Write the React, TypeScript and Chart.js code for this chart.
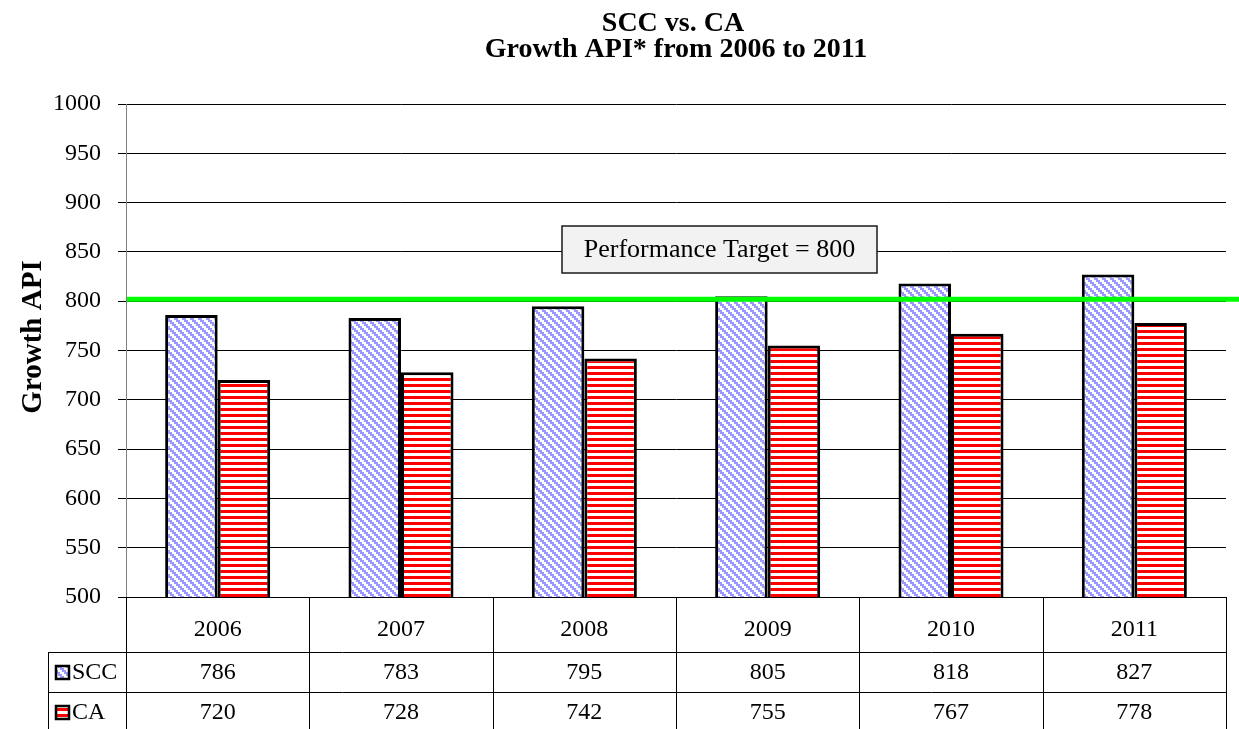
import React, { useEffect, useRef } from "react";
import { Chart, registerables } from "chart.js";

Chart.register(...registerables);

const categories = ["2006", "2007", "2008", "2009", "2010", "2011"];
const sccValues = [786, 783, 795, 805, 818, 827];
const caValues = [720, 728, 742, 755, 767, 778];
const seriesNames = ["SCC", "CA"];
const targetValue = 800;
const targetLabel = "Performance Target = 800";
const titleLines = ["SCC vs. CA", "Growth API* from 2006 to 2011"];
const yAxisTitle = "Growth API";
const yMin = 500;
const yMax = 1000;
const yStep = 50;

const SERIF = '"Liberation Serif", "Times New Roman", serif';

function makeDiagPattern(): CanvasPattern | string {
  const size = 8;
  const c = document.createElement("canvas");
  c.width = size;
  c.height = size;
  const ctx = c.getContext("2d");
  if (!ctx) return "#9999ff";
  const img = ctx.createImageData(size, size);
  for (let y = 0; y < size; y++) {
    for (let x = 0; x < size; x++) {
      const i = (y * size + x) * 4;
      const d = (((Math.floor(x / 2) - Math.floor(y / 2)) % 4) + 4) % 4;
      const on = d < 2;
      img.data[i] = on ? 0x99 : 255;
      img.data[i + 1] = on ? 0x99 : 255;
      img.data[i + 2] = 255;
      img.data[i + 3] = 255;
    }
  }
  ctx.putImageData(img, 0, 0);
  return ctx.createPattern(c, "repeat") || "#9999ff";
}

function makeHorzPattern(): CanvasPattern | string {
  const c = document.createElement("canvas");
  c.width = 6;
  c.height = 6;
  const ctx = c.getContext("2d");
  if (!ctx) return "#ff0000";
  ctx.fillStyle = "#ffffff";
  ctx.fillRect(0, 0, 6, 6);
  ctx.fillStyle = "#ff0000";
  ctx.fillRect(0, 0, 6, 3);
  return ctx.createPattern(c, "repeat") || "#ff0000";
}

export default function App() {
  const ref = useRef<HTMLCanvasElement | null>(null);

  useEffect(() => {
    const canvas = ref.current;
    if (!canvas) return;
    const sccFill = makeDiagPattern();
    const caFill = makeHorzPattern();

    const overlay = {
      id: "overlay",
      afterDraw(chart: any) {
        const ctx = chart.ctx as CanvasRenderingContext2D;
        const xs = chart.scales.x;
        const ys = chart.scales.y;
        const area = chart.chartArea;
        ctx.save();

        // target line
        const ty = ys.getPixelForValue(targetValue);
        ctx.strokeStyle = "#00ff00";
        ctx.lineWidth = 5;
        ctx.beginPath();
        ctx.moveTo(area.left + 1, ty - 2);
        ctx.lineTo(chart.width, ty - 2);
        ctx.stroke();

        // target box
        const bx = 562, by = 226, bw = 315, bh = 47;
        ctx.fillStyle = "#f2f2f2";
        ctx.fillRect(bx, by, bw, bh);
        ctx.strokeStyle = "#1a1a1a";
        ctx.lineWidth = 1.5;
        ctx.strokeRect(bx, by, bw, bh);
        ctx.fillStyle = "#000";
        ctx.font = `26px ${SERIF}`;
        ctx.textAlign = "center";
        ctx.textBaseline = "middle";
        ctx.fillText(targetLabel, bx + bw / 2, by + bh / 2 + 1);

        // titles
        ctx.font = `bold 28px ${SERIF}`;
        ctx.textBaseline = "alphabetic";
        ctx.fillText(titleLines[0], 673, 31);
        ctx.fillText(titleLines[1], 676, 57);

        // y axis title
        ctx.save();
        ctx.translate(34, 337);
        ctx.rotate(-Math.PI / 2);
        ctx.font = `bold 29px ${SERIF}`;
        ctx.textBaseline = "middle";
        ctx.fillText(yAxisTitle, 0, 0);
        ctx.restore();

        // data table
        const top = area.bottom;
        const r1 = 652;
        const r2 = 692;
        const r3 = 732;
        const legendLeft = 48;
        const n = categories.length;
        const step = (area.right - area.left) / n;
        ctx.strokeStyle = "#000";
        ctx.lineWidth = 1;
        ctx.beginPath();
        ctx.moveTo(area.left, top + 0.5);
        ctx.lineTo(area.right, top + 0.5);
        [r1, r2, r3].forEach((yy) => {
          ctx.moveTo(legendLeft, yy + 0.5);
          ctx.lineTo(area.right, yy + 0.5);
        });
        for (let i = 0; i <= n; i++) {
          const xx = Math.round(area.left + i * step) + 0.5;
          ctx.moveTo(xx, top);
          ctx.lineTo(xx, r3);
        }
        ctx.moveTo(legendLeft + 0.5, r1);
        ctx.lineTo(legendLeft + 0.5, r3);
        ctx.stroke();

        ctx.font = `24px ${SERIF}`;
        ctx.textAlign = "center";
        ctx.textBaseline = "middle";
        ctx.fillStyle = "#000";
        for (let i = 0; i < n; i++) {
          const cx = xs.getPixelForValue(i);
          ctx.fillText(String(sccValues[i]), cx, (r1 + r2) / 2 + 1);
          ctx.fillText(String(caValues[i]), cx, (r2 + r3) / 2 + 1);
        }

        // legend keys
        const keys = [
          { fill: sccFill, y: (r1 + r2) / 2 },
          { fill: caFill, y: (r2 + r3) / 2 },
        ];
        keys.forEach((k, idx) => {
          ctx.fillStyle = k.fill as any;
          ctx.fillRect(56, k.y - 6, 13, 13);
          ctx.strokeStyle = "#000";
          ctx.lineWidth = 2.5;
          ctx.strokeRect(56, k.y - 6, 13, 13);
          ctx.fillStyle = "#000";
          ctx.textAlign = "left";
          ctx.fillText(seriesNames[idx], 72, k.y + 1);
        });

        ctx.restore();
      },
    };

    const chart = new Chart(canvas, {
      type: "bar",
      data: {
        labels: categories,
        datasets: [
          {
            label: seriesNames[0],
            data: sccValues,
            backgroundColor: sccFill as any,
            borderColor: "#000",
            borderWidth: 3,
            borderSkipped: false,
            barPercentage: 1,
            categoryPercentage: 0.573,
          },
          {
            label: seriesNames[1],
            data: caValues,
            backgroundColor: caFill as any,
            borderColor: "#000",
            borderWidth: 3,
            borderSkipped: false,
            barPercentage: 1,
            categoryPercentage: 0.573,
          },
        ],
      },
      options: {
        animation: false,
        responsive: true,
        maintainAspectRatio: false,
        layout: { padding: { top: 104, right: 13, left: 0, bottom: 0 } },
        plugins: {
          legend: { display: false },
          title: { display: false },
          tooltip: { enabled: false },
        },
        scales: {
          x: {
            grid: { display: false },
            border: { display: false },
            ticks: {
              color: "#000",
              font: { family: SERIF, size: 24 },
              padding: 10,
              maxRotation: 0,
            },
            afterFit(scale: any) {
              scale.height = 729 - 597;
            },
          },
          y: {
            min: yMin,
            max: yMax,
            grid: {
              color: "#000",
              lineWidth: 1,
              tickLength: 8,
              drawTicks: true,
            },
            border: { display: true, color: "#808080", width: 1 },
            ticks: {
              stepSize: yStep,
              color: "#000",
              font: { family: SERIF, size: 24 },
              padding: 17,
              callback: (v: any) => String(v),
            },
            afterFit(scale: any) {
              scale.width = 126;
            },
          },
        },
      },
      plugins: [overlay],
    });

    return () => chart.destroy();
  }, []);

  return (
    <div
      style={{
        position: "fixed",
        left: 0,
        top: 0,
        width: 1239,
        height: 729,
        background: "#fff",
      }}
    >
      <canvas ref={ref} />
    </div>
  );
}
